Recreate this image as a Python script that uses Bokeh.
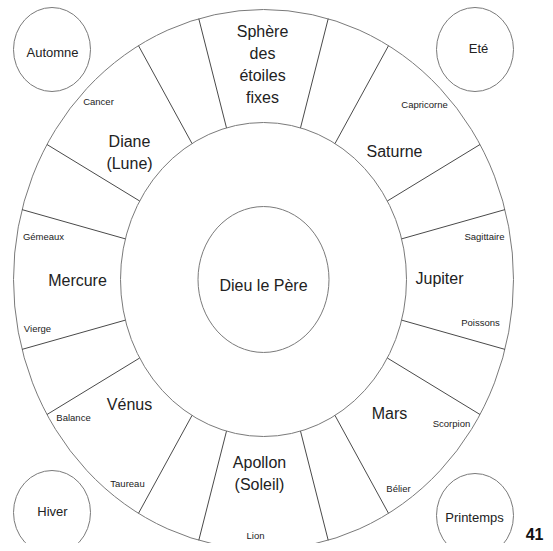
from bokeh.plotting import figure
from bokeh.models import Range1d
from bokeh.core.properties import value
from bokeh.embed import file_html
from bokeh.resources import INLINE
import numpy as np

# ---------------- data ----------------
centre_label = "Dieu le Père"
planets = ["Sphère\ndes\nétoiles\nfixes", "Saturne", "Jupiter", "Mars",
           "Apollon\n(Soleil)", "Vénus", "Mercure", "Diane\n(Lune)"]
signs = ["Capricorne", "Sagittaire", "Poissons", "Scorpion", "Bélier",
         "Lion", "Taureau", "Balance", "Vierge", "Gémeaux", "Cancer"]
seasons = ["Automne", "Eté", "Hiver", "Printemps"]
boundary_deg = [15, 30, 60, 75, 105, 120, 150, 165,
                195, 210, 240, 255, 285, 300, 330, 345]
page_no = "41"

# ---------------- layout (pixel geometry) ----------------
CX, CY = 263, 279
RINGS = [(250, 270), (143, 157), (65.5, 73)]   # outer, inner, centre (half-width, half-height)
planet_xy = [(262, 64), (394, 151), (439, 278), (389, 413),
             (259, 473), (129, 404), (77, 280), (129, 152)]
sign_xy = [(424, 104), (484, 236), (480, 322), (451, 423), (398, 488),
           (255, 535), (127, 483), (73, 417), (37, 328), (43, 236), (98, 101)]
season_xy = [(51.5, 49), (474.5, 49), (51.5, 512), (474.5, 515)]
season_text_xy = [(52, 52), (478, 48), (52, 511), (474, 517)]
SEASON_R = (38.5, 42)

W, H = 545, 543
p = figure(width=W, height=H, output_backend="svg", toolbar_location=None,
           x_range=Range1d(0, W), y_range=Range1d(H, 0),
           min_border=0, outline_line_color=None)
p.axis.visible = False
p.grid.visible = False
p.background_fill_color = "white"
p.border_fill_color = "white"

FONT = value("Liberation Sans")
TXT = "#222222"
CIRC = "#7a7a7a"
LINE = "#4a4a4a"

# rings
p.ellipse(x=[CX] * 3, y=[CY] * 3,
          width=[2 * a for a, b in RINGS], height=[2 * b for a, b in RINGS],
          fill_color=None, line_color=CIRC, line_width=1)

# radial boundaries between the outer and inner rings
th = np.radians(boundary_deg)
(ao, bo), (ai, bi) = RINGS[0], RINGS[1]
xs = [[CX + ai * np.cos(t), CX + ao * np.cos(t)] for t in th]
ys = [[CY - bi * np.sin(t), CY - bo * np.sin(t)] for t in th]
p.multi_line(xs=xs, ys=ys, line_color=LINE, line_width=1)

# season circles
p.ellipse(x=[x for x, y in season_xy], y=[y for x, y in season_xy],
          width=2 * SEASON_R[0], height=2 * SEASON_R[1],
          fill_color=None, line_color=CIRC, line_width=1)

# texts
p.text(x=[CX], y=[285], text=[centre_label], text_font=FONT,
       text_font_size="16px", text_color=TXT,
       text_align="center", text_baseline="middle")
p.text(x=[x for x, y in planet_xy], y=[y for x, y in planet_xy], text=planets,
       text_font=FONT, text_font_size="16px", text_color=TXT,
       text_align="center", text_baseline="middle", text_line_height=1.3)
p.text(x=[x for x, y in sign_xy], y=[y for x, y in sign_xy], text=signs,
       text_font=FONT, text_font_size="9.5px", text_color=TXT,
       text_align="center", text_baseline="middle")
p.text(x=[x for x, y in season_text_xy], y=[y for x, y in season_text_xy],
       text=seasons, text_font=FONT, text_font_size="13px", text_color=TXT,
       text_align="center", text_baseline="middle")
p.text(x=[543], y=[533], text=[page_no], text_font=FONT, text_font_size="16px",
       text_font_style="bold", text_color="#111111",
       text_align="right", text_baseline="middle")

open("out.html", "w").write(file_html(p, INLINE))
